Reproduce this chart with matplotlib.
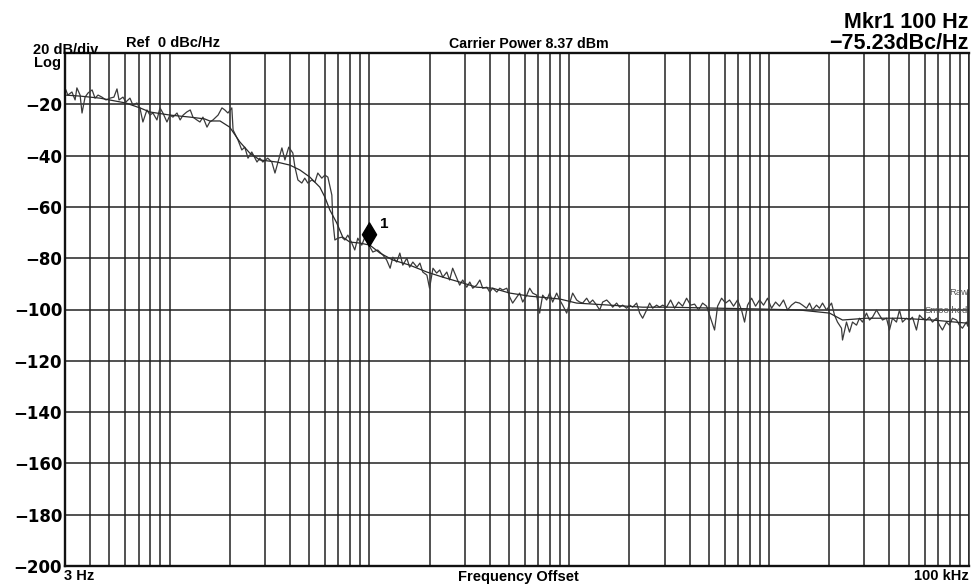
import matplotlib
matplotlib.use('Agg')
import matplotlib.pyplot as plt
from matplotlib.path import Path
from matplotlib.ticker import LogLocator, NullFormatter, FixedLocator

plt.rcParams['font.family'] = ['Liberation Sans', 'DejaVu Sans']

# Axis range (dBc/Hz, Hz)
Y_TICKS = [0, -20, -40, -60, -80, -100, -120, -140, -160, -180, -200]
Y_LABELS = ['', '\u221220', '\u221240', '\u221260', '\u221280', '\u2212100', '\u2212120',
            '\u2212140', '\u2212160', '\u2212180', '\u2212200']
F_START = 3
F_STOP = 100000

# Marker 1
MKR_F = 100
MKR_DB = -75.23

# Raw trace
raw_freq = [3.03, 3.10, 3.25, 3.37, 3.44, 3.57, 3.65, 3.78, 3.91, 4.10,
            4.24, 4.39, 4.59, 4.81, 5.04, 5.27, 5.46, 5.59, 5.85, 6.05,
            6.34, 6.56, 6.87, 7.11, 7.36, 7.71, 7.98, 8.26, 8.65, 8.96,
            9.27, 9.71, 10.05, 10.4, 10.9, 11.3, 11.7, 12.2, 12.7, 13.1,
            13.7, 14.2, 14.7, 15.4, 15.9, 16.5, 17.5, 18.3, 18.9, 19.6,
            20.5, 20.8, 22.0, 23.0, 23.8, 24.7, 25.8, 27.4, 28.3, 29.3,
            31.0, 32.5, 33.7, 34.8, 36.5, 37.8, 39.5, 41.4, 42.4, 43.9,
            45.9, 47.5, 49.2, 51.5, 53.4, 55.2, 57.8, 59.9, 62.0, 64.9,
            65.6, 67.2, 69.5, 72.8, 75.4, 78.0, 81.7, 84.5, 87.5, 91.6,
            94.9, 98.2, 104, 110, 117, 122, 127, 131, 137, 142,
            147, 154, 159, 165, 173, 179, 185, 194, 200, 208,
            217, 225, 233, 244, 252, 261, 274, 283, 293, 307,
            318, 329, 344, 357, 369, 387, 400, 414, 434, 449,
            465, 487, 504, 521, 546, 565, 585, 613, 634, 656,
            687, 711, 736, 771, 798, 826, 865, 896, 927, 971,
            1005, 1040, 1089, 1127, 1167, 1222, 1265, 1310, 1371, 1420,
            1469, 1539, 1593, 1649, 1726, 1787, 1850, 1937, 2005, 2075,
            2173, 2250, 2329, 2438, 2524, 2613, 2736, 2832, 2932, 3070,
            3214, 3365, 3524, 3690, 3864, 4046, 4238, 4437, 4646, 4865,
            5094, 5334, 5522, 5783, 6055, 6340, 6638, 6950, 7277, 7536,
            7801, 8169, 8553, 8955, 9377, 9819, 10280, 10770, 11270, 11800,
            12360, 12940, 13550, 14190, 14690, 15390, 15930, 16490, 17260, 17870,
            18500, 19370, 20520, 21240, 21980, 23020, 23290, 24380, 25240, 26130,
            27360, 28320, 29320, 30700, 31780, 32900, 34450, 35660, 36910, 38650,
            40000, 41410, 43360, 44890, 46460, 48650, 50370, 52130, 54590, 56510,
            58490, 61250, 63400, 65630, 68730, 71140, 73640, 77110, 79820, 82630,
            86520, 89560, 92710, 97080, 98500, 98500]
raw_db = [-14.4, -16.4, -15.2, -18.3, -13.6, -16.4, -23.4, -17.2, -15.6, -14.4,
          -17.6, -16.4, -17.2, -18.3, -17.6, -17.2, -14.0, -18.3, -17.2, -19.1,
          -17.6, -20.3, -19.5, -21.4, -26.9, -22.2, -24.2, -23.4, -26.1, -21.4,
          -23.4, -26.9, -24.2, -25.0, -23.4, -26.1, -24.2, -23.0, -22.2, -25.0,
          -26.1, -26.9, -25.0, -28.9, -26.9, -26.1, -24.2, -21.4, -22.2, -23.4,
          -21.4, -30.0, -33.9, -37.8, -36.7, -41.0, -38.6, -42.5, -41.0, -42.5,
          -41.0, -42.5, -46.8, -42.9, -37.0, -41.7, -36.7, -39.0, -44.4, -49.5,
          -50.7, -48.8, -50.7, -49.5, -50.3, -46.8, -48.8, -47.6, -48.4, -55.4,
          -65.1, -72.9, -72.2, -71.8, -72.9, -71.0, -74.1, -76.8, -72.2, -74.9,
          -71.8, -74.1, -77.6, -76.8, -78.8, -80.7, -83.9, -79.6, -81.5, -78.0,
          -82.7, -80.0, -83.5, -81.5, -83.5, -81.9, -85.4, -86.6, -91.7, -83.9,
          -85.8, -84.6, -87.4, -85.4, -88.5, -83.9, -87.8, -90.5, -88.5, -91.3,
          -89.3, -91.7, -90.5, -88.5, -91.7, -91.3, -93.2, -91.7, -93.2, -91.7,
          -92.4, -91.7, -95.2, -97.5, -95.2, -93.6, -97.1, -94.4, -91.7, -93.6,
          -94.4, -101.4, -94.4, -96.3, -93.6, -97.1, -93.6, -96.3, -98.3, -101.4,
          -97.5, -93.6, -96.3, -97.1, -97.5, -95.6, -97.5, -96.3, -98.3, -100.2,
          -97.1, -96.3, -97.5, -99.1, -97.5, -99.1, -98.3, -99.5, -98.3, -99.1,
          -97.5, -101.4, -103.4, -100.2, -97.5, -99.5, -98.3, -99.1, -98.3, -99.1,
          -96.3, -99.5, -97.1, -98.7, -95.6, -98.3, -97.9, -100.2, -97.5, -98.7,
          -103.4, -108.0, -98.7, -95.6, -97.5, -96.3, -98.7, -96.3, -100.2, -104.9,
          -98.3, -95.6, -98.7, -96.3, -98.3, -95.6, -99.5, -97.1, -98.7, -96.3,
          -100.2, -98.3, -97.1, -97.5, -98.3, -99.5, -97.5, -100.2, -98.3, -99.5,
          -97.5, -100.2, -97.5, -102.2, -104.9, -107.3, -111.9, -104.9, -108.8, -104.9,
          -106.1, -103.4, -104.9, -101.4, -104.1, -103.0, -100.2, -102.2, -104.1, -103.4,
          -108.0, -103.4, -104.9, -100.2, -104.9, -103.4, -104.1, -103.0, -108.0, -102.2,
          -103.4, -104.1, -103.0, -104.9, -103.4, -106.1, -108.0, -104.9, -106.1, -103.4,
          -104.1, -106.1, -107.3, -104.9, -106.5, -92.4]

# Smoothed trace
sm_freq = [3.0, 3.57, 4.49, 5.33, 6.05, 7.11, 7.98, 10.05, 12.7, 15.0,
           15.9, 17.9, 20.0, 22.5, 25.2, 28.3, 34.4, 40.0, 44.9, 50.4,
           56.5, 59.9, 63.4, 68.7, 73.6, 79.8, 89.6, 100.5, 113, 131,
           159, 194, 233, 283, 344, 414, 504, 634, 896, 1089,
           1593, 2329, 3142, 5652, 8955, 14190, 20050, 23290, 30700, 44890,
           65630, 97080]
sm_db = [-16.4, -16.8, -17.6, -18.7, -19.5, -21.4, -23.0, -24.2, -25.0, -25.7,
         -26.5, -26.5, -28.9, -34.7, -39.0, -41.7, -42.5, -43.7, -45.6, -48.4,
         -52.3, -56.2, -61.2, -66.3, -71.8, -73.7, -74.1, -74.9, -78.0, -80.7,
         -82.7, -85.4, -87.4, -89.3, -91.3, -91.7, -93.6, -94.8, -95.9, -97.5,
         -98.3, -99.1, -99.1, -99.5, -99.8, -100.2, -101.4, -104.1, -103.4, -103.4,
         -104.1, -105.3]

fig = plt.figure(figsize=(9.74, 5.86), dpi=100)
ax = fig.add_axes([65/974, 1 - 566/586, 904/974, 513/586])

ax.set_xscale('log')
ax.set_xlim(F_START, F_STOP)
ax.set_ylim(-200, 0)

# grid: every 20 dB, log decades with 2..9 lines
ax.yaxis.set_major_locator(FixedLocator(Y_TICKS))
ax.set_yticklabels(Y_LABELS, family='DejaVu Sans', fontweight='bold', fontsize=12)
ax.xaxis.set_major_locator(LogLocator(base=10))
ax.xaxis.set_minor_locator(LogLocator(base=10, subs=range(2, 10)))
ax.xaxis.set_major_formatter(NullFormatter())
ax.xaxis.set_minor_formatter(NullFormatter())
ax.tick_params(which='both', length=0)
ax.tick_params(axis='y', pad=2)
ax.grid(True, which='both', axis='x', color='#222222', lw=1.1)
ax.grid(True, which='major', axis='y', color='#222222', lw=1.1)
ax.set_axisbelow(True)
for s in ['top', 'bottom', 'left']:
    ax.spines[s].set_linewidth(1.7)
    ax.spines[s].set_color('#111111')
ax.spines['right'].set_linewidth(1.1)
ax.spines['right'].set_color('#222222')

# traces
ax.plot(raw_freq, raw_db, color='#3a3a3a', lw=0.9)
ax.plot(sm_freq, sm_db, color='#2a2a2a', lw=0.9)

# marker diamond, bottom tip sits on the trace
diamond = Path([(0, 0), (0.6, 1), (0, 2), (-0.6, 1), (0, 0)])
ax.plot([MKR_F], [MKR_DB], marker=diamond, markersize=34, color='black', lw=0)
ax.annotate('1', xy=(MKR_F, MKR_DB), xytext=(7.5, 13), textcoords='offset points',
            fontsize=11, fontweight='bold', ha='left', va='baseline')

# trace names at right edge
ax.text(0.999, 1 - (295 - 53) / 513, 'Raw', transform=ax.transAxes,
        ha='right', va='baseline', fontsize=6.8, color='#555555')
ax.text(0.999, 1 - (313 - 53) / 513, 'Smoothed', transform=ax.transAxes,
        ha='right', va='baseline', fontsize=6.8, color='#555555')

# screen annotations
def px(x, y):
    return x / 974, 1 - y / 586

fig.text(*px(33, 54), '20 dB/div', fontsize=10.5, fontweight='bold', va='baseline')
fig.text(*px(34, 67), 'Log', fontsize=10.5, fontweight='bold', va='baseline')
fig.text(*px(126, 47), 'Ref  0 dBc/Hz', fontsize=10.5, fontweight='bold', va='baseline')
fig.text(*px(449, 48), 'Carrier Power 8.37 dBm', fontsize=10.2, fontweight='bold', va='baseline')
fig.text(*px(969, 28), 'Mkr1 100 Hz', fontsize=15.5, fontweight='bold', ha='right', va='baseline')
fig.text(*px(969, 49), '\u221275.23dBc/Hz', fontsize=15.5, fontweight='bold', ha='right', va='baseline')
fig.text(*px(64, 580), '3 Hz', fontsize=10.5, fontweight='bold', va='baseline')
fig.text(*px(518, 581), 'Frequency Offset', fontsize=10.5, fontweight='bold', ha='center', va='baseline')
fig.text(*px(969, 580), '100 kHz', fontsize=10.5, fontweight='bold', ha='right', va='baseline')

fig.savefig('out.png', dpi=100)
